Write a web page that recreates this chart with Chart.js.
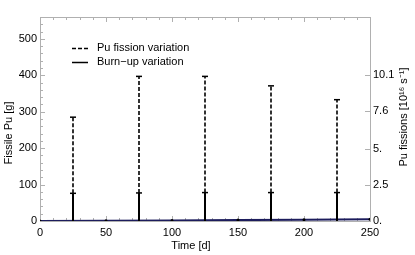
<!DOCTYPE html>
<html>
<head>
<meta charset="utf-8">
<script src="https://cdn.jsdelivr.net/npm/chart.js@4.4.1/dist/chart.umd.min.js"></script>
<style>
  html, body { margin: 0; padding: 0; background: #fff; }
  #wrap { width: 415px; height: 255px; }
</style>
</head>
<body>
<div id="wrap"><canvas id="myChart" width="415" height="255"></canvas></div>
<script>
// reload times [d] and stem heights [g]
var reloadDays = [25, 75, 125, 175, 225];
var fissionTops = [285, 397, 397, 371, 333];
var burnupTops = [76, 77, 78, 78, 78];
// slowly rising baseline
var baseDays = [0, 50, 100, 150, 200, 250];
var baseValues = [0, 1, 1.5, 2.5, 3.5, 4.5];
// axis ticks
var leftTickValues = [0, 100, 200, 300, 400, 500];
var rightTickValues = [0, 2.5, 5, 7.6, 10.1];
var rightTickLabels = ['0.', '2.5', '5.', '7.6', '10.1'];
var fissionsPerGram = 10.1 / 400;

var Y_MAX = 560;

function stems(bottoms, tops) {
    var pts = [];
    for (var i = 0; i < reloadDays.length; i++) {
        pts.push({x: reloadDays[i], y: bottoms[i]});
        pts.push({x: reloadDays[i], y: tops[i]});
        pts.push({x: reloadDays[i], y: null});
    }
    return pts;
}

var capRadius = function(c) { return c.dataIndex % 3 === 1 ? 3 : 0; };

var framePlugin = {
    id: 'frame',
    beforeDatasetsDraw: function(chart) {
        var c = chart.ctx, a = chart.chartArea;
        var x = chart.scales.x, y = chart.scales.y;
        c.save();
        c.strokeStyle = '#b0b0b0';
        c.lineWidth = 1;
        c.strokeRect(a.left + 0.5, a.top + 0.5, a.right - a.left, a.bottom - a.top);
        c.beginPath();
        // x ticks on bottom and top
        for (var t = 0; t <= 250; t += 10) {
            var px = Math.round(x.getPixelForValue(t)) + 0.5;
            var len = t % 50 === 0 ? 5 : 3;
            c.moveTo(px, a.bottom); c.lineTo(px, a.bottom - len);
            c.moveTo(px, a.top); c.lineTo(px, a.top + len);
        }
        // y ticks on left
        for (var v = 0; v <= Y_MAX; v += 20) {
            var py = Math.round(y.getPixelForValue(v)) + 0.5;
            var l = v % 100 === 0 ? 5 : 3;
            c.moveTo(a.left, py); c.lineTo(a.left + l, py);
        }
        // right ticks
        var r = chart.scales.y2;
        rightTickValues.forEach(function(v) {
            var py = Math.round(r.getPixelForValue(v)) + 0.5;
            c.moveTo(a.right, py); c.lineTo(a.right - 5, py);
        });
        c.stroke();
        c.restore();
    },
    afterDraw: function(chart) {
        var c = chart.ctx;
        c.save();
        c.fillStyle = '#000';
        c.font = '11px "Liberation Sans", Arial, sans-serif';
        c.textAlign = 'center';
        c.textBaseline = 'middle';
        c.fillText('Time [d]', 191, 246);
        c.save();
        c.translate(9, 133);
        c.rotate(-Math.PI / 2);
        c.fillText('Fissile Pu [g]', 0, 0);
        c.restore();
        c.save();
        c.translate(404, 117);
        c.rotate(-Math.PI / 2);
        c.fillText('Pu fissions [10\u00b9\u2076 s\u207b\u00b9]', 0, 0);
        c.restore();
        // legend
        c.strokeStyle = '#000';
        c.lineWidth = 1.5;
        c.setLineDash([4, 2]);
        c.beginPath(); c.moveTo(72, 48.5); c.lineTo(88, 48.5); c.stroke();
        c.setLineDash([]);
        c.beginPath(); c.moveTo(72, 62.5); c.lineTo(88, 62.5); c.stroke();
        c.textAlign = 'left';
        c.fillText('Pu fission variation', 97, 48);
        c.fillText('Burn\u2212up variation', 97, 62);
        c.restore();
    }
};

var ctx = document.getElementById('myChart').getContext('2d');
var chart = new Chart(ctx, {
    type: 'line',
    data: {
        datasets: [{
            label: 'Pu fission variation',
            data: stems(burnupTops, fissionTops),
            borderColor: '#000',
            borderWidth: 1.6,
            borderDash: [4, 2],
            pointStyle: 'line',
            pointRadius: capRadius,
            pointBorderWidth: 1.5,
            pointBorderColor: '#000'
        }, {
            label: 'Burn-up variation',
            data: stems(reloadDays.map(function() { return 0; }), burnupTops),
            borderColor: '#000',
            borderWidth: 2,
            pointStyle: 'line',
            pointRadius: capRadius,
            pointBorderWidth: 1.5,
            pointBorderColor: '#000'
        }, {
            label: 'base',
            data: baseDays.map(function(d, i) { return {x: d, y: baseValues[i]}; }),
            borderColor: '#1c1c5c',
            borderWidth: 2,
            pointRadius: 1.5,
            pointBackgroundColor: '#000',
            pointBorderWidth: 0
        }]
    },
    options: {
        animation: false,
        responsive: false,
        spanGaps: false,
        layout: { padding: { top: 17, left: 0, right: 0, bottom: 0 } },
        plugins: { legend: { display: false }, tooltip: { enabled: false } },
        elements: { line: { tension: 0 } },
        scales: {
            x: {
                type: 'linear', min: 0, max: 250,
                grid: { display: false, drawTicks: false },
                border: { display: false },
                ticks: { stepSize: 50, color: '#000', padding: 5, maxRotation: 0,
                         font: { family: '"Liberation Sans", Arial, sans-serif', size: 11 } },
                afterFit: function(s) { s.height = 34; }
            },
            y: {
                position: 'left', min: 0, max: Y_MAX,
                grid: { display: false, drawTicks: false },
                border: { display: false },
                afterBuildTicks: function(s) {
                    s.ticks = leftTickValues.map(function(v) { return {value: v}; });
                },
                ticks: { color: '#000', padding: 3,
                         font: { family: '"Liberation Sans", Arial, sans-serif', size: 11 } },
                afterFit: function(s) { s.width = 40; }
            },
            y2: {
                position: 'right', min: 0, max: Y_MAX * fissionsPerGram,
                grid: { display: false, drawTicks: false },
                border: { display: false },
                afterBuildTicks: function(s) {
                    s.ticks = rightTickValues.map(function(v) { return {value: v}; });
                },
                ticks: { color: '#000', padding: 3,
                         callback: function(v, i) { return rightTickLabels[i]; },
                         font: { family: '"Liberation Sans", Arial, sans-serif', size: 11 } },
                afterFit: function(s) { s.width = 45; }
            }
        }
    },
    plugins: [framePlugin]
});
</script>
</body>
</html>
